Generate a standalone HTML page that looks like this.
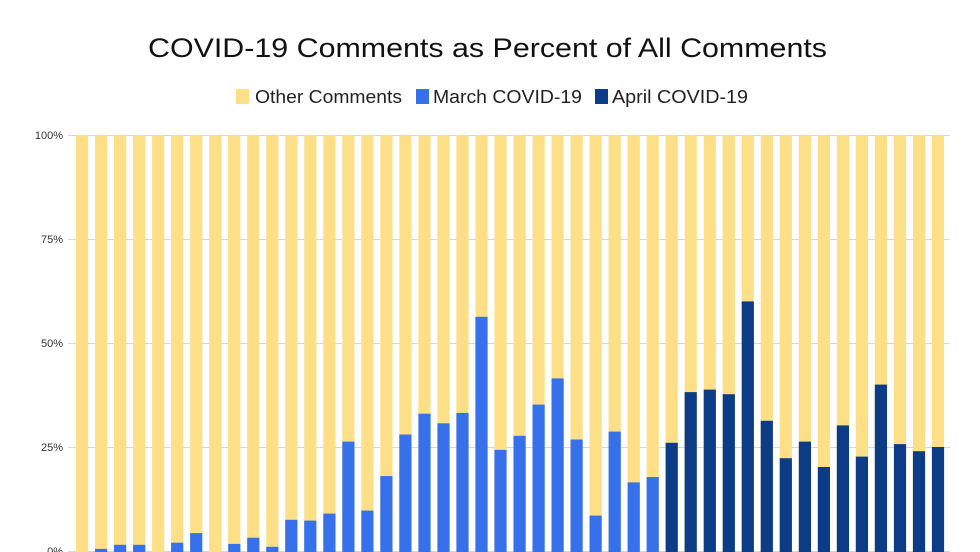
<!DOCTYPE html>
<html><head><meta charset="utf-8"><style>html,body{margin:0;padding:0;background:#fff}svg{display:block}</style></head>
<body>
<svg width="980" height="552" viewBox="0 0 980 552" xmlns="http://www.w3.org/2000/svg" font-family="Liberation Sans, Arial, sans-serif">
<defs>
<pattern id="yp" patternUnits="userSpaceOnUse" x="76" y="0" width="19.02" height="552">
<rect x="0" y="0" width="12.2" height="552" fill="#fddf88"/>
</pattern>
</defs>
<rect width="980" height="552" fill="#fff"/>
<text x="148" y="57" font-size="27" fill="#111" textLength="679" lengthAdjust="spacingAndGlyphs">COVID-19 Comments as Percent of All Comments</text>
<rect x="236" y="89" width="13" height="15" fill="#fddf88"/>
<text x="255" y="103" font-size="18" fill="#222" textLength="147" lengthAdjust="spacingAndGlyphs">Other Comments</text>
<rect x="416" y="89" width="13" height="15" fill="#3670ea"/>
<text x="433" y="103" font-size="18" fill="#222" textLength="149" lengthAdjust="spacingAndGlyphs">March COVID-19</text>
<rect x="595" y="89" width="13" height="15" fill="#0c3c85"/>
<text x="612" y="103" font-size="18" fill="#222" textLength="136" lengthAdjust="spacingAndGlyphs">April COVID-19</text>
<g stroke="#d6d6d6" stroke-width="1">
<line x1="68" x2="950" y1="135.5" y2="135.5"/>
<line x1="68" x2="950" y1="239.5" y2="239.5"/>
<line x1="68" x2="950" y1="343.5" y2="343.5"/>
<line x1="68" x2="950" y1="447.5" y2="447.5"/>
<line x1="68" x2="950" y1="551.5" y2="551.5"/>
</g>
<g font-size="11" fill="#333" text-anchor="end">
<text x="63" y="139">100%</text>
<text x="63" y="243">75%</text>
<text x="63" y="347">50%</text>
<text x="63" y="451">25%</text>
<text x="63" y="555">0%</text>
</g>
<rect x="76" y="135" width="868" height="417" fill="url(#yp)"/>
<g fill="#3670ea">
<rect x="95.0" y="548.9" width="12.2" height="3.1"/>
<rect x="114.0" y="544.8" width="12.2" height="7.2"/>
<rect x="133.1" y="544.8" width="12.2" height="7.2"/>
<rect x="171.1" y="542.7" width="12.2" height="9.3"/>
<rect x="190.1" y="533.1" width="12.2" height="18.9"/>
<rect x="228.2" y="543.9" width="12.2" height="8.1"/>
<rect x="247.2" y="537.7" width="12.2" height="14.3"/>
<rect x="266.2" y="546.8" width="12.2" height="5.2"/>
<rect x="285.2" y="519.8" width="12.2" height="32.2"/>
<rect x="304.2" y="520.6" width="12.2" height="31.4"/>
<rect x="323.3" y="513.6" width="12.2" height="38.4"/>
<rect x="342.3" y="441.6" width="12.2" height="110.4"/>
<rect x="361.3" y="510.6" width="12.2" height="41.4"/>
<rect x="380.3" y="476.1" width="12.2" height="75.9"/>
<rect x="399.3" y="434.5" width="12.2" height="117.5"/>
<rect x="418.4" y="413.7" width="12.2" height="138.3"/>
<rect x="437.4" y="423.3" width="12.2" height="128.7"/>
<rect x="456.4" y="412.9" width="12.2" height="139.1"/>
<rect x="475.4" y="316.8" width="12.2" height="235.2"/>
<rect x="494.4" y="449.9" width="12.2" height="102.1"/>
<rect x="513.5" y="435.8" width="12.2" height="116.2"/>
<rect x="532.5" y="404.6" width="12.2" height="147.4"/>
<rect x="551.5" y="378.4" width="12.2" height="173.6"/>
<rect x="570.5" y="439.5" width="12.2" height="112.5"/>
<rect x="589.5" y="515.6" width="12.2" height="36.4"/>
<rect x="608.6" y="431.6" width="12.2" height="120.4"/>
<rect x="627.6" y="482.4" width="12.2" height="69.6"/>
<rect x="646.6" y="477.0" width="12.2" height="75.0"/>
</g>
<g fill="#0c3c85">
<rect x="665.6" y="442.8" width="12.2" height="109.2"/>
<rect x="684.6" y="392.1" width="12.2" height="159.9"/>
<rect x="703.7" y="389.6" width="12.2" height="162.4"/>
<rect x="722.7" y="394.2" width="12.2" height="157.8"/>
<rect x="741.7" y="301.4" width="12.2" height="250.6"/>
<rect x="760.7" y="420.8" width="12.2" height="131.2"/>
<rect x="779.7" y="458.2" width="12.2" height="93.8"/>
<rect x="798.8" y="441.6" width="12.2" height="110.4"/>
<rect x="817.8" y="467.0" width="12.2" height="85.0"/>
<rect x="836.8" y="425.4" width="12.2" height="126.6"/>
<rect x="855.8" y="456.6" width="12.2" height="95.4"/>
<rect x="874.8" y="384.6" width="12.2" height="167.4"/>
<rect x="893.9" y="444.1" width="12.2" height="107.9"/>
<rect x="912.9" y="451.2" width="12.2" height="100.8"/>
<rect x="931.9" y="447.0" width="12.2" height="105.0"/>
</g>
</svg>
</body></html>
